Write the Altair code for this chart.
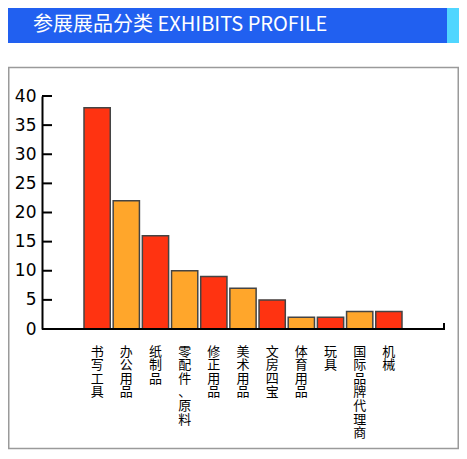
import altair as alt
import pandas as pd

cats = ["书写工具", "办公用品", "纸制品", "零配件、原料", "修正用品", "美术用品",
        "文房四宝", "体育用品", "玩具", "国际品牌代理商", "机械"]
vals = [38, 22, 16, 10, 9, 7, 5, 2, 2, 3, 3]
yticks = [0, 5, 10, 15, 20, 25, 30, 35, 40]
title_text = "参展展品分类 EXHIBITS PROFILE"

RED = "#FF3311"
ORANGE = "#FFA62B"
BLUE = "#2160F0"
CYAN = "#50D6FF"

W, H = 402, 233

df = pd.DataFrame({"cat": cats, "val": vals})
ticks_df = pd.DataFrame({"val": [t for t in yticks if t > 0]})
one = pd.DataFrame({"a": [0]})

yscale = alt.Scale(domain=[0, 40], nice=False)
yaxis = alt.Axis(title=None, values=yticks, ticks=False, domainColor="black",
                 domainWidth=2, grid=False, labelFont="DejaVu Sans",
                 labelFontSize=17, labelPadding=6, labelColor="black",
                 labelOverlap=False, labelFlush=False, labelBound=False, zindex=1)

frame = alt.Chart(one).mark_rect(fillOpacity=0, stroke="#9a9a9a", strokeWidth=1.5).encode(
    x=alt.value(-33.25), x2=alt.value(416.25), y=alt.value(-28.5), y2=alt.value(352.5)
)
header = alt.Chart(one).mark_rect(fill=BLUE).encode(
    x=alt.value(-34), x2=alt.value(405), y=alt.value(-88), y2=alt.value(-53)
)
header2 = alt.Chart(one).mark_rect(fill=CYAN).encode(
    x=alt.value(405), x2=alt.value(417), y=alt.value(-88), y2=alt.value(-53)
)
title = alt.Chart(one).mark_text(
    align="left", baseline="middle", color="white", fontSize=20, font="Noto Sans CJK SC"
).encode(x=alt.value(-9), y=alt.value(-71), text=alt.value(title_text))

bars = alt.Chart(df).transform_window(idx="row_number()").mark_bar(
    stroke="#444444", strokeWidth=1.5
).encode(
    x=alt.X("cat:N", sort=None,
            scale=alt.Scale(paddingInner=0.1, paddingOuter=0, range=[42, 360]),
            axis=alt.Axis(title=None, labelExpr="split(datum.label, '')", labelAngle=0,
                          ticks=False, domain=False,
                          labelFont="Noto Sans CJK SC", labelFontSize=13,
                          labelLineHeight=13.6, labelPadding=16, labelColor="black",
                          labelBaseline="top", labelOverlap=False)),
    y=alt.Y("val:Q", scale=yscale, axis=yaxis),
    color=alt.condition("datum.idx % 2 == 1", alt.value(RED), alt.value(ORANGE)),
)

tickmarks = alt.Chart(ticks_df).mark_rule(color="black", strokeWidth=2).encode(
    y=alt.Y("val:Q", scale=yscale, axis=yaxis), x=alt.value(0), x2=alt.value(10)
)
baseline = alt.Chart(one).mark_rule(color="black", strokeWidth=2).encode(
    x=alt.value(0), x2=alt.value(W + 1), y=alt.value(H)
)
endtick = alt.Chart(one).mark_rule(color="black", strokeWidth=2).encode(
    x=alt.value(W), y=alt.value(H), y2=alt.value(H - 6)
)

chart = alt.layer(frame, header, header2, title, bars, tickmarks, baseline, endtick).properties(
    width=W, height=H,
    padding={"left": 34, "top": 88, "right": 15, "bottom": 121},
    autosize="none",
).configure_view(stroke=None).configure_axis(labelOverlap=False)

chart.save("out.html", embed_options={"renderer": "svg", "actions": False})
